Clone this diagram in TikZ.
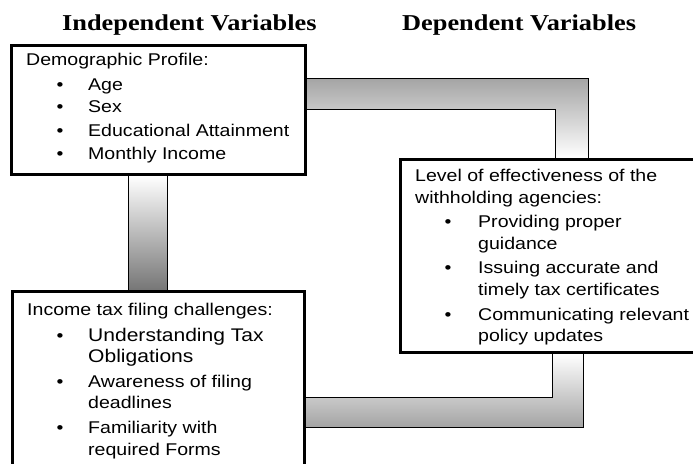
\documentclass[tikz,border=0pt]{standalone}
\usepackage{fontspec}
\usetikzlibrary{backgrounds}
\newfontfamily\titlefont[FakeStretch=1.16]{Liberation Serif}
\newfontfamily\bodyfont[FakeStretch=1.15]{Liberation Sans}
\definecolor{pipemid}{HTML}{A4A4A4}
\definecolor{pipedeep}{HTML}{767676}

\begin{document}
\begin{tikzpicture}[x=1pt,y=-1pt,
  heading/.style={font=\titlefont\bfseries\fontsize{22.7}{26}\selectfont, anchor=base west, inner sep=0pt},
  box/.style={draw=black, line width=2.6pt, fill=white, anchor=north west, inner sep=0pt},
  txt/.style={font=\bodyfont\fontsize{17}{20}\selectfont, anchor=base west, inner sep=0pt},
  bigtxt/.style={font=\bodyfont\fontsize{18.3}{22}\selectfont, anchor=base west, inner sep=0pt},
  dot/.style={font=\bodyfont\fontsize{17}{20}\selectfont, anchor=base, inner sep=0pt},
  pipe/.style={draw=black, line width=1pt, line join=miter},
]
\useasboundingbox (0,0) rectangle (693,463);
\clip (0,0) rectangle (693,463);

% column headings
\node[heading] (indep) at (62,30) {Independent Variables};
\node[heading] (dep) at (402,30) {Dependent Variables};

% the three variable boxes
\node[box, minimum width=294pt, minimum height=129pt] (demo) at (10,44) {};
\node[box, minimum width=292pt, minimum height=200pt] (chal) at (11,290) {};
\node[box, minimum width=310pt, minimum height=193pt] (eff) at (399,158) {};

% demographic profile
\node[txt] (d0) at (26,65.7) {Demographic Profile:};
\node[dot] (db1) at (60,90.7) {\textbullet};
\node[txt] (d1) at (88,90.7) {Age};
\node[dot] (db2) at (60,112.7) {\textbullet};
\node[txt] (d2) at (88,112.7) {Sex};
\node[dot] (db3) at (60,136.7) {\textbullet};
\node[txt] (d3) at (88,136.7) {Educational Attainment};
\node[dot] (db4) at (60,159) {\textbullet};
\node[txt] (d4) at (88,159) {Monthly Income};

% filing challenges
\node[txt] (c0) at (27,315) {Income tax filing challenges:};
\node[dot] (cb1) at (60,341.7) {\textbullet};
\node[bigtxt] (c1) at (88,341.7) {Understanding Tax};
\node[bigtxt] (c1b) at (88,362.7) {Obligations};
\node[dot] (cb2) at (60,387.3) {\textbullet};
\node[txt] (c2) at (88,387.3) {Awareness of filing};
\node[txt] (c2b) at (88,408.3) {deadlines};
\node[dot] (cb3) at (60,433.3) {\textbullet};
\node[txt] (c3) at (88,433.3) {Familiarity with};
\node[txt] (c3b) at (88,455) {required Forms};

% agency effectiveness
\node[txt] (e0) at (415,181.7) {Level of effectiveness of the};
\node[txt] (e0b) at (415,203.3) {withholding agencies:};
\node[dot] (eb1) at (448,227.3) {\textbullet};
\node[txt] (e1) at (478,227.3) {Providing proper};
\node[txt] (e1b) at (478,249) {guidance};
\node[dot] (eb2) at (448,273.3) {\textbullet};
\node[txt] (e2) at (478,273.3) {Issuing accurate and};
\node[txt] (e2b) at (478,295) {timely tax certificates};
\node[dot] (eb3) at (448,320) {\textbullet};
\node[txt] (e3) at (478,320) {Communicating relevant};
\node[txt] (e3b) at (478,341.7) {policy updates};

% shaded connectors behind the boxes
\begin{scope}[on background layer]
  \path[pipe, top color=pipemid, bottom color=white]
    (demo.east |- 0,78) -- (588,78) -- (588,0 |- eff.north)
    -- (555,0 |- eff.north) -- (555,109) -- (demo.east |- 0,109) -- cycle;
  \path[pipe, top color=white, bottom color=pipedeep]
    (128,0 |- demo.south) rectangle (167,0 |- chal.north);
  \path[pipe, top color=white, bottom color=pipemid]
    (chal.east |- 0,397) -- (552,397) -- (552,0 |- eff.south)
    -- (583,0 |- eff.south) -- (583,427) -- (chal.east |- 0,427) -- cycle;
\end{scope}
\end{tikzpicture}
\end{document}
